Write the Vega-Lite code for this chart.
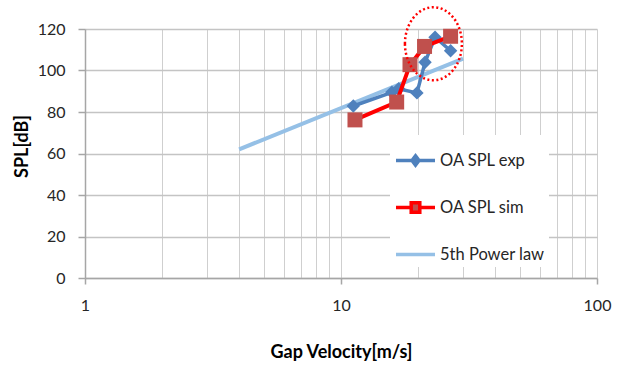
{
  "$schema": "https://vega.github.io/schema/vega-lite/v6.json",
  "width": 512,
  "height": 249,
  "autosize": {"type": "none"},
  "padding": {"left": 85, "top": 29, "right": 25, "bottom": 87},
  "background": "white",
  "config": {
    "view": {"stroke": null},
    "font": "Lato"
  },
  "datasets": {
    "series": [
      {"series": "OA SPL exp", "v": 11.17, "spl": 82.9},
      {"series": "OA SPL exp", "v": 15.8, "spl": 89.5},
      {"series": "OA SPL exp", "v": 16.8, "spl": 91.2},
      {"series": "OA SPL exp", "v": 19.8, "spl": 89.2},
      {"series": "OA SPL exp", "v": 21.3, "spl": 104},
      {"series": "OA SPL exp", "v": 23.3, "spl": 116},
      {"series": "OA SPL exp", "v": 26.8, "spl": 109.5},
      {"series": "OA SPL sim", "v": 11.34, "spl": 76.2},
      {"series": "OA SPL sim", "v": 16.5, "spl": 84.8},
      {"series": "OA SPL sim", "v": 18.6, "spl": 102.8},
      {"series": "OA SPL sim", "v": 21.2, "spl": 111.6},
      {"series": "OA SPL sim", "v": 26.8, "spl": 116.5},
      {"series": "5th Power law", "v": 4.0, "spl": 62},
      {"series": "5th Power law", "v": 30.0, "spl": 105.7}
    ],
    "note": [
      {"v": 22.96, "spl": 112.9}
    ]
  },
  "data": {"name": "series"},
  "encoding": {
    "x": {
      "field": "v", "type": "quantitative",
      "scale": {"type": "log", "domain": [1, 100], "nice": false},
      "axis": {
        "title": "Gap Velocity[m/s]",
        "values": [1, 2, 3, 4, 5, 6, 7, 8, 9, 10, 20, 30, 40, 50, 60, 70, 80, 90, 100],
        "labelExpr": "(datum.value == 1 || datum.value == 10 || datum.value == 100) ? format(datum.value, 'd') : ''",
        "labelOverlap": false,
        "labelFlush": false,
        "labelFont": "Lato",
        "labelFontSize": 16,
        "labelColor": "#262626",
        "labelPadding": 13,
        "grid": true,
        "gridColor": "#cfcfcf",
        "gridWidth": 1,
        "domainColor": "#a6a6a6",
        "domainWidth": 1.5,
        "tickColor": "#a6a6a6",
        "tickSize": 6,
        "tickWidth": 1.5,
        "tickOpacity": {"condition": {"test": "datum.value == 1 || datum.value == 10 || datum.value == 100", "value": 1}, "value": 0},
        "titleFont": "Lato",
        "titleFontSize": 18,
        "titleFontWeight": "bold",
        "titleColor": "#000000",
        "titleBaseline": "alphabetic",
        "titleY": 79
      }
    },
    "y": {
      "field": "spl", "type": "quantitative",
      "scale": {"domain": [0, 120], "nice": false},
      "axis": {
        "title": "SPL[dB]",
        "values": [0, 20, 40, 60, 80, 100, 120],
        "labelFont": "Lato",
        "labelFontSize": 16,
        "labelColor": "#262626",
        "labelPadding": 13,
        "grid": true,
        "gridColor": "#c4c4c4",
        "gridWidth": 1.5,
        "domainColor": "#a6a6a6",
        "domainWidth": 1.5,
        "tickColor": "#a6a6a6",
        "tickSize": 7,
        "tickWidth": 1.5,
        "titleFont": "Lato",
        "titleFontSize": 18,
        "titleFontWeight": "bold",
        "titleColor": "#000000",
        "titleBaseline": "alphabetic",
        "titleAlign": "center",
        "titleAngle": 270,
        "titleX": -58,
        "titleY": 117
      }
    }
  },
  "layer": [
    {
      "transform": [{"filter": "datum.series == '5th Power law'"}],
      "mark": {"type": "line", "strokeWidth": 4},
      "encoding": {
        "color": {
          "field": "series", "type": "nominal",
          "scale": {"domain": ["OA SPL exp", "OA SPL sim", "5th Power law"], "range": ["#4f81bd", "#ff0000", "#95c0e6"]},
          "legend": {
            "title": null,
            "orient": "none",
            "legendX": 305,
            "legendY": 106,
            "fillColor": "white",
            "padding": 4,
            "symbolSize": 1521,
            "labelFont": "Lato",
            "labelFontSize": 16.5,
            "labelColor": "#262626",
            "labelOffset": 3,
            "rowPadding": 13,
            "encode": {
              "symbols": {
                "update": {
                  "shape": {"signal": "datum.value == 'OA SPL exp' ? 'M -1 0 L 1 0 M 0 -0.24 L 0.18 0 L 0 0.24 L -0.18 0 Z' : datum.value == 'OA SPL sim' ? 'M -1 0 L -0.22 0 M 0.22 0 L 1 0 M -0.22 -0.24 L 0.22 -0.24 L 0.22 0.24 L -0.22 0.24 Z' : 'M -1 0 L 1 0'"},
                  "fill": {"signal": "datum.value == 'OA SPL exp' ? '#4f81bd' : datum.value == 'OA SPL sim' ? '#c0504d' : 'transparent'"},
                  "stroke": {"signal": "datum.value == 'OA SPL exp' ? '#4f81bd' : datum.value == 'OA SPL sim' ? '#ff0000' : '#95c0e6'"},
                  "strokeWidth": {"value": 3.5},
                  "opacity": {"value": 1}
                }
              }
            }
          }
        }
      }
    },
    {
      "transform": [{"filter": "datum.series == 'OA SPL exp'"}],
      "mark": {"type": "line", "strokeWidth": 3.5},
      "encoding": {"color": {"field": "series", "type": "nominal"}}
    },
    {
      "transform": [{"filter": "datum.series == 'OA SPL exp'"}],
      "mark": {"type": "point", "shape": "diamond", "filled": true, "size": 180, "color": "#4f81bd", "opacity": 1},
      "encoding": {}
    },
    {
      "transform": [{"filter": "datum.series == 'OA SPL sim'"}],
      "mark": {"type": "line", "strokeWidth": 4},
      "encoding": {"color": {"field": "series", "type": "nominal"}}
    },
    {
      "transform": [{"filter": "datum.series == 'OA SPL sim'"}],
      "mark": {"type": "point", "shape": "square", "filled": true, "size": 225, "color": "#c0504d", "opacity": 1},
      "encoding": {}
    },
    {
      "data": {"name": "note"},
      "mark": {
        "type": "point",
        "shape": "M -0.78 0 A 0.78 1 0 1 1 0.78 0 A 0.78 1 0 1 1 -0.78 0 Z",
        "size": 5329,
        "filled": false,
        "stroke": "#ff0000",
        "strokeWidth": 2.5,
        "strokeDash": [2, 2.5],
        "opacity": 1
      },
      "encoding": {}
    }
  ]
}
